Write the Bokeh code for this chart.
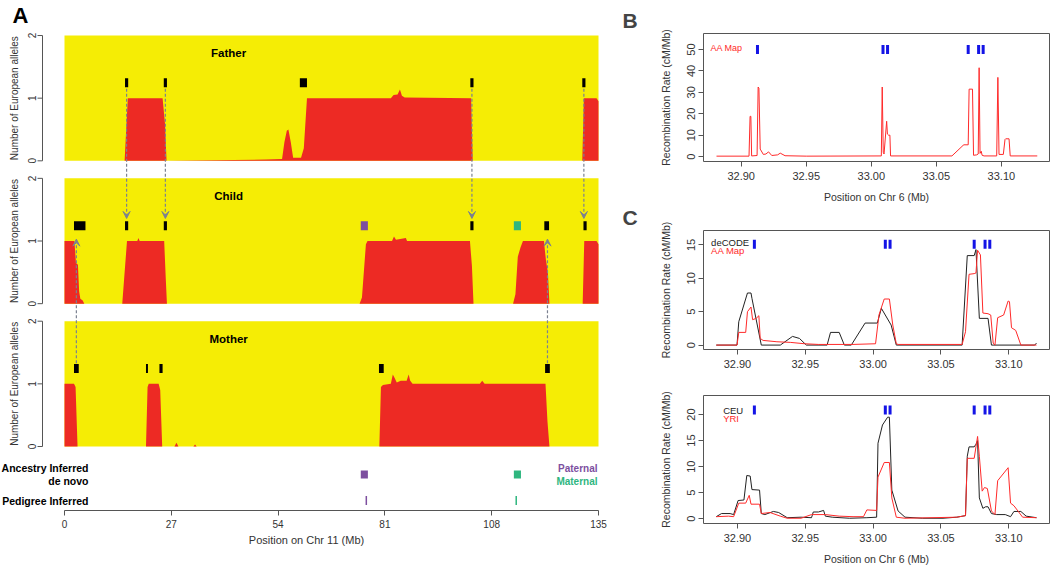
import math
from bokeh.plotting import figure
from bokeh.models import Arrow, VeeHead, FixedTicker, Range1d, NumeralTickFormatter, Title
from bokeh.layouts import row, column
from bokeh.embed import file_html
from bokeh.resources import INLINE
from bokeh.core.properties import value

FONT = "Liberation Sans"
YELLOW = "#f5ed05"
RED = "#ed2a24"
PURPLE = "#7d4f9f"
GREEN = "#2fb67f"
ARROW_C = "#7b8191"
AXIS_C = "#555555"
TXT_C = "#333333"

# ---------------- Panel A data (Chr 11, Mb / number of European alleles) ----------------
father_x = [0, 15.2, 15.6, 16.0, 24.8, 25.4, 25.8, 51.0, 55.0, 55.6, 56.2, 56.6, 57.2, 57.8, 59.8, 60.5, 61.0, 61.3,
            82.5, 83.2, 84.2, 84.8, 85.3, 86.0, 102.8, 103.2, 130.9, 131.3, 134.5, 135.0]
father_y = [0, 0, 0.5, 1.0, 1.0, 0.6, 0, 0.02, 0.03, 0.3, 0.48, 0.5, 0.3, 0.05, 0.05, 0.2, 0.7, 1.0,
            1.0, 1.05, 1.06, 1.14, 1.04, 1.01, 1.0, 0, 0, 1.0, 1.0, 0.95]

child_x = [0, 2.5, 2.9, 3.4, 3.7, 4.0, 4.6, 5.0, 14.6, 15.2, 15.8, 18.4, 18.7, 19.0, 25.2, 25.6, 25.9,
           74.6, 75.2, 76.2, 76.6, 82.8, 83.3, 83.8, 86.3, 86.6, 87.0, 102.5, 103.0, 103.4, 113.4, 114.0,
           114.6, 115.3, 115.9, 121.2, 121.7, 122.2, 122.6, 131.0, 131.4, 134.5, 135.0]
child_y = [1.0, 1.0, 0.65, 0.62, 0.2, 0.08, 0.05, 0, 0, 0.5, 1.0, 1.0, 1.05, 1.0, 1.0, 0.4, 0,
           0, 0.1, 0.95, 1.0, 1.0, 1.07, 1.02, 1.05, 1.0, 1.0, 1.0, 0.6, 0, 0, 0.15,
           0.75, 0.9, 1.0, 1.0, 0.7, 0.5, 0, 0, 1.0, 1.0, 0.95]

mother_x = [0, 2.4, 2.8, 3.3, 20.6, 21.0, 21.3, 23.8, 24.2, 24.7, 27.8, 28.3, 28.8, 32.6, 33.0, 33.4,
            79.6, 80.0, 80.5, 82.5, 83.0, 83.4, 84.0, 85.0, 86.5, 87.0, 87.4, 88.0, 105.0, 105.6, 106.2,
            121.6, 122.1, 122.6, 135.0]
mother_y = [1.0, 1.0, 0.95, 0, 0, 0.95, 1.0, 1.0, 0.9, 0, 0, 0.06, 0, 0, 0.03, 0,
            0, 0.95, 0.98, 1.0, 1.15, 1.1, 1.02, 1.05, 1.05, 1.15, 1.05, 1.0, 1.0, 1.05, 1.0,
            1.0, 0.4, 0, 0]

# inferred switch points (intervals, Mb)
father_mk_start = [15.3, 25.1, 59.5, 102.6, 130.9]
father_mk_end = [16.1, 25.9, 61.3, 103.4, 131.7]
child_mk_start = [2.4, 15.3, 25.1, 102.6, 121.3, 131.2]
child_mk_end = [5.3, 16.1, 25.9, 103.4, 122.5, 132.0]
mother_mk_start = [2.4, 20.6, 24.0, 79.5, 121.5]
mother_mk_end = [3.6, 21.1, 24.8, 80.7, 122.7]
denovo_start = [74.9, 113.6]
denovo_end = [76.7, 115.4]
denovo_colors = [PURPLE, GREEN]
pedigree_pos = [76.3, 114.2]
father_to_child_x = [15.7, 25.5, 103.0, 131.3]
mother_to_child_x = [3.0, 122.1]
x_ticks_A = [0, 27, 54, 81, 108, 135]
y_ticks_A = [0, 1, 2]

# ---------------- Panel B / C data (Chr 6, Mb / cM per Mb) ----------------
aa_b_x = [32.881, 32.906, 32.9068, 32.9074, 32.908, 32.9122, 32.913, 32.9136, 32.9146, 32.917, 32.919,
          32.921, 32.9235, 32.928, 32.930, 32.9337, 32.95, 33.0077, 33.0084, 33.0092, 33.0098, 33.0118,
          33.0124, 33.0133, 33.0143, 33.0148, 33.062, 33.0705, 33.0712, 33.0745, 33.0752, 33.0758, 33.0778,
          33.0786, 33.081, 33.0822, 33.0829, 33.0836, 33.0845, 33.0852, 33.0867, 33.0964, 33.0973,
          33.0982, 33.1015, 33.1028, 33.1033, 33.1059, 33.1068, 33.1276]
aa_b_y = [0.2, 0.2, 18.8, 18.8, 0.3, 0.5, 32.5, 32.0, 3.5, 1.0, 1.2,
          2.2, 0.5, 0.8, 1.6, 0.4, 0.2, 0.3, 32.5, 2.0, 1.2, 16.5,
          10.5, 10.0, 10.0, 0.3, 0.3, 5.2, 5.5, 5.5, 31.5, 31.5, 31.5,
          0.6, 0.8, 1.2, 41.5, 1.5, 2.5, 0.6, 0.3, 0.3, 37.0,
          1.0, 1.0, 8.0, 8.3, 8.3, 0.3, 0.3]

decode_x = [32.8844, 32.8997, 32.901, 32.9074, 32.91, 32.9107, 32.9176, 32.9316, 32.9406, 32.9457,
            32.9508, 32.9661, 32.9686, 32.975, 32.9788, 32.9839, 32.9941, 33.0031, 33.0061, 33.0133,
            33.0171, 33.0656, 33.0694, 33.0745, 33.0758, 33.0783, 33.0847, 33.0872, 33.1191, 33.1204]
decode_y = [0, 0, 3.5, 7.8, 7.8, 7.0, 0, 0, 1.3, 1.0,
            0, 0, 1.9, 1.9, 0, 0, 3.3, 3.3, 5.5, 3.0,
            0, 0, 13.4, 13.4, 14.3, 4.0, 4.0, 0, 0, 0.3]

aa_c_x = [32.8844, 32.8997, 32.901, 32.9061, 32.9074, 32.91, 32.9112, 32.9138, 32.9158, 32.9168, 32.9189,
          32.9291, 32.9393, 32.9495, 32.9597, 32.9852, 33.0018, 33.0043, 33.0082, 33.012, 33.0145,
          33.0171, 33.0184, 33.0656, 33.0681, 33.0707, 33.0745, 33.0758, 33.077, 33.0791, 33.0809,
          33.0847, 33.0867, 33.0885, 33.0898, 33.0918, 33.0962, 33.0995, 33.1005, 33.102, 33.1051,
          33.1089, 33.1204]
aa_c_y = [0, 0, 1.9, 1.9, 5.0, 5.7, 3.8, 4.0, 4.4, 1.0, 0.7,
          0.5, 0.4, 0.2, 0.1, 0.1, 0.2, 4.5, 6.9, 6.9, 3.0,
          0.2, 0.1, 0.1, 2.0, 10.6, 10.7, 10.8, 14.2, 13.5, 4.8,
          4.7, 4.5, 0.3, 0, 4.1, 4.5, 6.6, 6.5, 2.6, 2.2,
          0, 0]

ceu_x = [32.8844, 32.8883, 32.8946, 32.8972, 32.9005, 32.9048, 32.9069, 32.9094, 32.9107, 32.9163,
         32.9176, 32.9202, 32.9265, 32.9304, 32.9367, 32.9469, 32.9546, 32.9559, 32.9597, 32.9635,
         32.9648, 32.9699, 32.9827, 32.9954, 33.0026, 33.0036, 33.0069, 33.0107, 33.012, 33.0138,
         33.0184, 33.0235, 33.0362, 33.0515, 33.0617, 33.0681, 33.0694, 33.0707, 33.0745, 33.0758,
         33.077, 33.0783, 33.0809, 33.0829, 33.0847, 33.0872, 33.0911, 33.0974, 33.1013, 33.1038,
         33.1089, 33.1128, 33.1204]
ceu_y = [0.4, 1.0, 1.0, 0.8, 3.5, 3.6, 8.3, 8.2, 5.6, 5.5,
         1.0, 0.8, 1.4, 1.2, 0.2, 0.3, 0.2, 1.3, 1.3, 1.6,
         0.5, 0.3, 0.1, 0.2, 0.3, 14.5, 18.0, 19.5, 19.5, 5.5,
         1.5, 0.3, 0.1, 0.1, 0.3, 0.6, 12.0, 13.8, 13.8, 14.3,
         15.0, 4.0, 2.0, 2.3, 2.3, 1.0, 0.8, 0.8, 0.4, 1.4,
         1.4, 0.5, 0.2]

yri_x = [32.8844, 32.8934, 32.8972, 32.901, 32.9061, 32.9087, 32.91, 32.9163, 32.9176, 32.924,
         32.9316, 32.9367, 32.9469, 32.9546, 32.9648, 32.975, 32.9852, 32.9929, 32.9954, 33.0026,
         33.0036, 33.0082, 33.012, 33.0138, 33.0171, 33.0235, 33.0617, 33.0681, 33.0694, 33.0745,
         33.077, 33.0783, 33.0804, 33.0821, 33.0842, 33.0872, 33.0898, 33.0918, 33.0995, 33.1013,
         33.1038, 33.1102, 33.1204]
yri_y = [0.4, 0.5, 0.4, 3.0, 3.0, 4.5, 2.8, 2.8, 1.0, 1.2,
         0.5, 0.1, 0.1, 0.8, 0.8, 0.5, 0.4, 0.4, 1.7, 1.6,
         8.0, 10.8, 10.8, 4.0, 0.3, 0.1, 0.3, 0.6, 11.6, 11.6,
         15.8, 12.0, 5.3, 6.0, 5.8, 1.5, 0.8, 7.3, 9.8, 3.0,
         2.5, 0.3, 0.2]

crossover_marks = [32.9125, 33.009, 33.0125, 33.0745, 33.0825, 33.086]
x_ticks_B = [32.90, 32.95, 33.00, 33.05, 33.10]
y_ticks_B = [0, 10, 20, 30, 40, 50]
y_ticks_C1 = [0, 5, 10, 15]
y_ticks_C2 = [0, 5, 10, 15, 20]

# ====================== Panel A (single frame, hand-made R-style y axes) ======================
MOTHER_OFF, CHILD_OFF, FATHER_OFF = 0.0, 2.28, 4.56
A_W, A_H, A_BOT = 612, 568, 58
PX_MB = 534 / 135.0          # pixels per Mb
PX_Y = 62.65                 # pixels per allele
IMG_X0, IMG_Y0 = 64, 446     # page position of (0 Mb, mother baseline)
AX0 = -IMG_X0 / PX_MB
AX1 = AX0 + A_W / PX_MB
AY1 = IMG_Y0 / PX_Y
AY0 = AY1 - (A_H - A_BOT) / PX_Y


def ax(ix):
    return (ix - IMG_X0) / PX_MB


def ay(iy):
    return (IMG_Y0 - iy) / PX_Y


pa = figure(width=A_W, height=A_H, x_range=Range1d(AX0, AX1), y_range=Range1d(AY0, AY1),
            output_backend="svg", toolbar_location=None, y_axis_location=None,
            min_border_left=0, min_border_right=0, min_border_top=0, min_border_bottom=A_BOT)
pa.xgrid.visible = False
pa.ygrid.visible = False
pa.outline_line_color = None

panels = [(FATHER_OFF, father_x, father_y, father_mk_start, father_mk_end, "Father"),
          (CHILD_OFF, child_x, child_y, child_mk_start, child_mk_end, "Child"),
          (MOTHER_OFF, mother_x, mother_y, mother_mk_start, mother_mk_end, "Mother")]

for off, xs, ys, ms, me, name in panels:
    pa.varea(x=[x_ticks_A[0], x_ticks_A[-1]], y1=[off, off], y2=[off + 2, off + 2], fill_color=YELLOW)
    pa.varea(x=xs, y1=[off] * len(xs), y2=[off + v for v in ys], fill_color=RED)
    pa.rect(x=[(a + b) / 2 for a, b in zip(ms, me)], y=[off + 1.245] * len(ms),
            width=[b - a for a, b in zip(ms, me)], height=9, height_units="screen",
            fill_color="black", line_color=None)
    pa.text(x=[41.5], y=[off + 1.72], text=[name], text_font=value(FONT), text_font_size="11.5px",
            text_font_style="bold", text_align="center", text_baseline="middle")
    # R style y axis for this track
    yt = [off + t for t in y_ticks_A]
    pa.segment(x0=[ax(42)], y0=[off], x1=[ax(42)], y1=[off + 2], line_color=AXIS_C, line_width=1)
    pa.segment(x0=[ax(37)] * len(yt), y0=yt, x1=[ax(42)] * len(yt), y1=yt, line_color=AXIS_C, line_width=1)
    pa.text(x=[ax(31)] * len(yt), y=yt, text=[str(t) for t in y_ticks_A], angle=math.pi / 2,
            text_font=value(FONT), text_font_size="10px", text_color=TXT_C,
            text_align="center", text_baseline="middle")
    pa.text(x=[ax(14)], y=[off + 1], text=["Number of European alleles"], angle=math.pi / 2,
            text_font=value(FONT), text_font_size="10px", text_color=TXT_C,
            text_align="center", text_baseline="middle")

# de novo switch colours on child
pa.rect(x=[(a + b) / 2 for a, b in zip(denovo_start, denovo_end)], y=[CHILD_OFF + 1.245] * 2,
        width=[b - a for a, b in zip(denovo_start, denovo_end)], height=9, height_units="screen",
        fill_color=denovo_colors, line_color=None)

# arrows
for x in father_to_child_x:
    pa.add_layout(Arrow(end=VeeHead(size=7, fill_color=ARROW_C, line_color=ARROW_C),
                        x_start=x, y_start=FATHER_OFF + 1.15, x_end=x, y_end=CHILD_OFF + 1.36,
                        line_color=ARROW_C, line_dash="3 2", line_width=1.2))
for x in mother_to_child_x:
    pa.add_layout(Arrow(end=VeeHead(size=7, fill_color=ARROW_C, line_color=ARROW_C),
                        x_start=x, y_start=MOTHER_OFF + 1.33, x_end=x, y_end=CHILD_OFF + 1.03,
                        line_color=ARROW_C, line_dash="3 2", line_width=1.2))

# bottom annotation rows
pa.rect(x=[(a + b) / 2 for a, b in zip(denovo_start, denovo_end)], y=[ay(474)] * 2,
        width=[b - a for a, b in zip(denovo_start, denovo_end)], height=8, height_units="screen",
        fill_color=denovo_colors, line_color=None)
pa.rect(x=pedigree_pos, y=[ay(500)] * 2, width=1.5, width_units="screen", height=9,
        height_units="screen", fill_color=denovo_colors, line_color=None)
pa.text(x=[ax(88)] * 3, y=[ay(467), ay(480), ay(500)],
        text=["Ancestry Inferred", "de novo", "Pedigree Inferred"], text_font=value(FONT),
        text_font_size="10.5px", text_font_style="bold", text_align="right", text_baseline="middle")
pa.text(x=[ax(597)] * 2, y=[ay(468), ay(481)], text=["Paternal", "Maternal"], text_font=value(FONT),
        text_font_size="10px", text_font_style="bold", text_align="right", text_baseline="middle",
        text_color=denovo_colors)
pa.text(x=[ax(20)], y=[ay(15)], text=["A"], text_font=value(FONT), text_font_size="22px",
        text_font_style="bold", text_align="center", text_baseline="middle")

xa = pa.xaxis[0]
xa.ticker = FixedTicker(ticks=x_ticks_A)
xa.bounds = (x_ticks_A[0], x_ticks_A[-1])
xa.axis_line_color = AXIS_C
xa.major_tick_line_color = AXIS_C
xa.major_tick_out = 5
xa.major_tick_in = 0
xa.minor_tick_line_color = None
xa.major_label_text_font = FONT
xa.major_label_text_font_size = "10px"
xa.major_label_text_color = TXT_C
xa.major_label_standoff = 4
xa.axis_label = "Position on Chr 11 (Mb)"
xa.axis_label_text_font = FONT
xa.axis_label_text_font_size = "11px"
xa.axis_label_text_font_style = "normal"
xa.axis_label_text_color = TXT_C
xa.axis_label_standoff = 3


# ====================== Panels B / C ======================
R_W = 438
R_L, R_R = 91, 1


def right_fig(h, xr, yr, top, bottom, yticks, xlabel, letter=None):
    p = figure(width=R_W, height=h, x_range=Range1d(*xr), y_range=Range1d(*yr),
               output_backend="svg", toolbar_location=None, min_border_left=R_L, min_border_right=R_R,
               min_border_top=top, min_border_bottom=bottom)
    if letter:
        p.title = Title(text=letter, align="left", offset=-(R_L - 10), text_font=FONT,
                        text_font_size="21px", text_font_style="bold", standoff=0, vertical_align="top")
    p.xgrid.visible = False
    p.ygrid.visible = False
    p.outline_line_color = AXIS_C
    for a in (p.xaxis[0], p.yaxis[0]):
        a.axis_line_color = None
        a.major_tick_line_color = AXIS_C
        a.major_tick_out = 5
        a.major_tick_in = 0
        a.minor_tick_line_color = None
        a.major_label_text_font = FONT
        a.major_label_text_font_size = "11px"
        a.major_label_text_color = TXT_C
        a.axis_label_text_font = FONT
        a.axis_label_text_font_size = "10.5px"
        a.axis_label_text_font_style = "normal"
        a.axis_label_text_color = TXT_C
    p.xaxis[0].ticker = FixedTicker(ticks=x_ticks_B)
    p.xaxis[0].formatter = NumeralTickFormatter(format="0.00")
    p.xaxis[0].major_label_standoff = 5
    if xlabel:
        p.xaxis[0].axis_label = xlabel
        p.xaxis[0].axis_label_standoff = 8
    p.yaxis[0].ticker = FixedTicker(ticks=yticks)
    p.yaxis[0].major_label_orientation = "vertical"
    p.yaxis[0].major_label_standoff = 3
    p.yaxis[0].axis_label = "Recombination Rate (cM/Mb)"
    p.yaxis[0].axis_label_standoff = 13
    return p


BLUE = "#1414e6"
LRED = "#ff2a2a"
LBLK = "#222222"

# ---- B
pb = right_fig(205, (32.871, 33.137), (-2.3, 57.5), 33, 44, y_ticks_B, "Position on Chr 6 (Mb)", "B")
pb.line(aa_b_x, aa_b_y, line_color=LRED, line_width=1)
pb.rect(x=crossover_marks, y=[50] * len(crossover_marks), width=3, width_units="screen", height=9,
        height_units="screen", fill_color=BLUE, line_color=None)
pb.text(x=[32.8763], y=[50.6], text=["AA Map"], text_font=value(FONT), text_font_size="9px",
        text_color=LRED, text_baseline="middle")

# ---- C1
pc1 = right_fig(175, (32.875, 33.130), (-0.66, 17.16), 22, 31, y_ticks_C1, None, "C")
pc1.line(decode_x, decode_y, line_color=LBLK, line_width=1)
pc1.line(aa_c_x, aa_c_y, line_color=LRED, line_width=1)
pc1.rect(x=crossover_marks, y=[15.1] * len(crossover_marks), width=3, width_units="screen", height=9,
         height_units="screen", fill_color=BLUE, line_color=None)
pc1.text(x=[32.8806, 32.8806], y=[15.4, 14.1], text=["deCODE", "AA Map"], text_font=value(FONT),
         text_font_size="9.5px", text_color=[LBLK, LRED], text_baseline="middle")

# ---- C2
pc2 = right_fig(188, (32.875, 33.130), (-0.91, 23.66), 15, 45, y_ticks_C2, "Position on Chr 6 (Mb)")
pc2.line(ceu_x, ceu_y, line_color=LBLK, line_width=1)
pc2.line(yri_x, yri_y, line_color=LRED, line_width=1)
pc2.rect(x=crossover_marks, y=[20.9] * len(crossover_marks), width=3, width_units="screen", height=9,
         height_units="screen", fill_color=BLUE, line_color=None)
pc2.text(x=[32.8895, 32.8895], y=[20.8, 19.2], text=["CEU", "YRI"], text_font=value(FONT),
         text_font_size="9.5px", text_color=[LBLK, LRED], text_baseline="middle")

layout = row(pa, column(pb, pc1, pc2))
open("out.html", "w").write(file_html(layout, INLINE))
